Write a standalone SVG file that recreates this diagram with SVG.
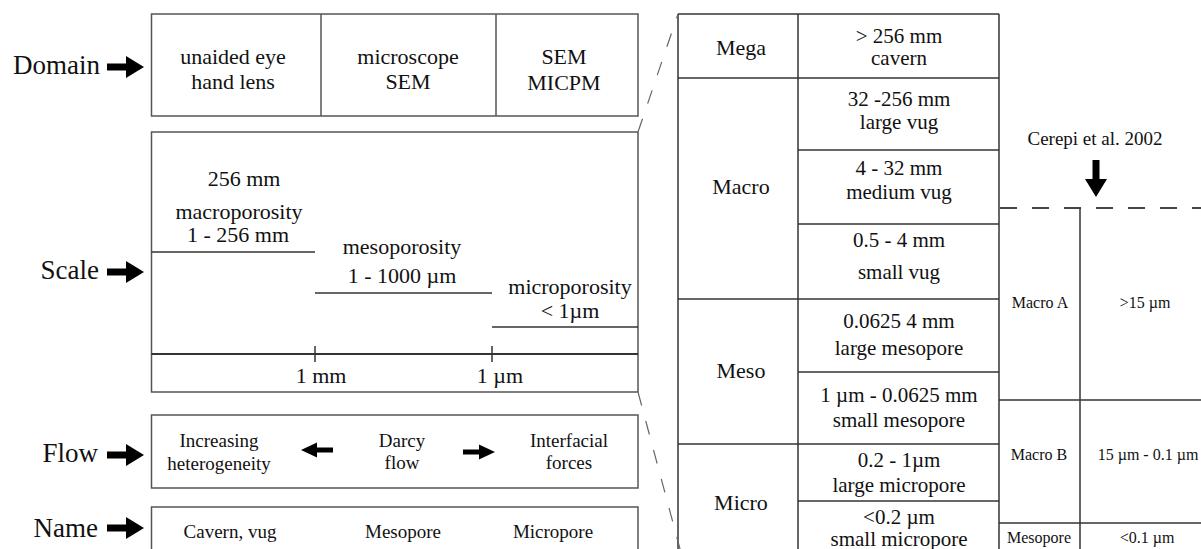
<svg xmlns="http://www.w3.org/2000/svg" width="1201" height="549" viewBox="0 0 1201 549" font-family="'Liberation Serif', 'DejaVu Serif', serif">
<style>
text{font-family:'Liberation Serif','DejaVu Serif',serif;fill:#111;text-anchor:middle}
.lbl{font-size:27px;text-anchor:end}
.t{font-size:22px}
.tt{font-size:21px}
.f{font-size:19px}
.s{font-size:16px}
.box{fill:none;stroke:#555;stroke-width:1.5}
.ln{fill:none;stroke:#333;stroke-width:1.5}
.ax{fill:none;stroke:#333;stroke-width:2.2}
.dash{fill:none;stroke:#666;stroke-width:1.2;stroke-dasharray:14 16}
.dash2{fill:none;stroke:#444;stroke-width:1.8;stroke-dasharray:17 15}
.arr{fill:#000}
</style>
<defs>
<path id="bigArrow" d="M0,-3.5 H19 V-11 L37,0 L19,11 V3.5 H0 Z"/>
<path id="smallArrow" d="M0,-2.5 H16 V-7.5 L32,0 L16,7.5 V2.5 H0 Z"/>
</defs>

<g id="labels">
<text class="lbl" x="100" y="74">Domain</text>
<use href="#bigArrow" class="arr" transform="translate(107,67)"/>
<text class="lbl" x="99" y="279">Scale</text>
<use href="#bigArrow" class="arr" transform="translate(107,272)"/>
<text class="lbl" x="98" y="462">Flow</text>
<use href="#bigArrow" class="arr" transform="translate(107,455)"/>
<text class="lbl" x="98" y="537">Name</text>
<use href="#bigArrow" class="arr" transform="translate(107,528)"/>
</g>

<g id="domain">
<rect class="box" x="151.5" y="14" width="486.5" height="102"/>
<line class="box" x1="321" y1="14" x2="321" y2="116"/>
<line class="box" x1="496" y1="14" x2="496" y2="116"/>
<text class="t" x="233" y="64">unaided eye</text>
<text class="t" x="233" y="89">hand lens</text>
<text class="t" x="408" y="64">microscope</text>
<text class="t" x="408" y="89">SEM</text>
<text class="t" x="564" y="64">SEM</text>
<text class="t" x="564" y="90">MICPM</text>
</g>

<g id="scale">
<rect class="box" x="151.5" y="132" width="486.5" height="260"/>
<text class="t" x="244" y="186">256 mm</text>
<text class="t" x="239" y="219">macroporosity</text>
<text class="t" x="238" y="242">1 - 256 mm</text>
<line class="ln" x1="151.5" y1="252" x2="315" y2="252"/>
<text class="t" x="402" y="254">mesoporosity</text>
<text class="t" x="402" y="283">1 - 1000 µm</text>
<line class="ln" x1="315" y1="293" x2="492" y2="293"/>
<text class="t" x="570" y="294">microporosity</text>
<text class="t" x="570" y="318">&lt; 1µm</text>
<line class="ln" x1="492" y1="327" x2="638" y2="327"/>
<line class="ax" x1="151.5" y1="354" x2="638" y2="354"/>
<line class="ln" x1="315" y1="346" x2="315" y2="362"/>
<line class="ln" x1="492" y1="346" x2="492" y2="362"/>
<text class="t" x="321" y="383">1 mm</text>
<text class="t" x="500" y="383">1 µm</text>
</g>

<g id="flow">
<rect class="box" x="151.5" y="415" width="486.5" height="73"/>
<text class="f" x="219" y="447">Increasing</text>
<text class="f" x="219" y="470">heterogeneity</text>
<use href="#smallArrow" class="arr" transform="translate(333,450) scale(-1,1)"/>
<text class="f" x="402" y="447">Darcy</text>
<text class="f" x="402" y="469">flow</text>
<use href="#smallArrow" class="arr" transform="translate(463,452)"/>
<text class="f" x="569" y="447">Interfacial</text>
<text class="f" x="569" y="469">forces</text>
</g>

<g id="name">
<rect class="box" x="151.5" y="507" width="486.5" height="60"/>
<text class="f" x="230" y="538">Cavern, vug</text>
<text class="f" x="403" y="538">Mesopore</text>
<text class="f" x="553" y="538">Micropore</text>
</g>

<g id="pore-table">
<line class="ln" x1="678" y1="14" x2="999" y2="14"/>
<line class="ln" x1="678" y1="14" x2="678" y2="549"/>
<line class="ln" x1="798" y1="14" x2="798" y2="549"/>
<line class="ln" x1="999" y1="14" x2="999" y2="549"/>
<line class="ln" x1="678" y1="78" x2="999" y2="78"/>
<line class="ln" x1="798" y1="150" x2="999" y2="150"/>
<line class="ln" x1="798" y1="224" x2="999" y2="224"/>
<line class="ln" x1="678" y1="299" x2="999" y2="299"/>
<line class="ln" x1="798" y1="372" x2="999" y2="372"/>
<line class="ln" x1="678" y1="444" x2="999" y2="444"/>
<line class="ln" x1="798" y1="501" x2="999" y2="501"/>
<text class="t" x="741" y="55">Mega</text>
<text class="tt" x="899" y="43">&gt; 256 mm</text>
<text class="tt" x="899" y="65">cavern</text>
<text class="t" x="741" y="194">Macro</text>
<text class="tt" x="899" y="106">32 -256 mm</text>
<text class="tt" x="899" y="129">large vug</text>
<text class="tt" x="899" y="175">4 - 32 mm</text>
<text class="tt" x="899" y="199">medium vug</text>
<text class="tt" x="899" y="247">0.5 - 4 mm</text>
<text class="tt" x="899" y="279">small vug</text>
<text class="t" x="741" y="378">Meso</text>
<text class="tt" x="899" y="328">0.0625 4 mm</text>
<text class="tt" x="899" y="355">large mesopore</text>
<text class="tt" x="899" y="402">1 µm - 0.0625 mm</text>
<text class="tt" x="899" y="427">small mesopore</text>
<text class="t" x="741" y="510">Micro</text>
<text class="tt" x="899" y="467">0.2 - 1µm</text>
<text class="tt" x="899" y="492">large micropore</text>
<text class="tt" x="899" y="524">&lt;0.2 µm</text>
<text class="tt" x="899" y="546">small micropore</text>
</g>

<g id="cerepi">
<text class="f" x="1095" y="145">Cerepi et al. 2002</text>
<use href="#bigArrow" class="arr" transform="translate(1096,160) rotate(90)"/>
<line class="dash2" x1="1000" y1="208" x2="1201" y2="208"/>
<line class="ln" x1="1080" y1="208" x2="1080" y2="549"/>
<line class="ln" x1="999" y1="400" x2="1201" y2="400"/>
<line class="ln" x1="999" y1="523" x2="1201" y2="523"/>
<text class="s" x="1040" y="308">Macro A</text>
<text class="s" x="1145" y="308">&gt;15 µm</text>
<text class="s" x="1039" y="460">Macro B</text>
<text class="s" x="1148" y="460">15 µm - 0.1 µm</text>
<text class="s" x="1039" y="543">Mesopore</text>
<text class="s" x="1147" y="543">&lt;0.1 µm</text>
</g>

<g id="connectors">
<line class="dash" x1="638" y1="132" x2="678" y2="14"/>
<line class="dash" x1="638" y1="392" x2="680" y2="549"/>
</g>
</svg>
